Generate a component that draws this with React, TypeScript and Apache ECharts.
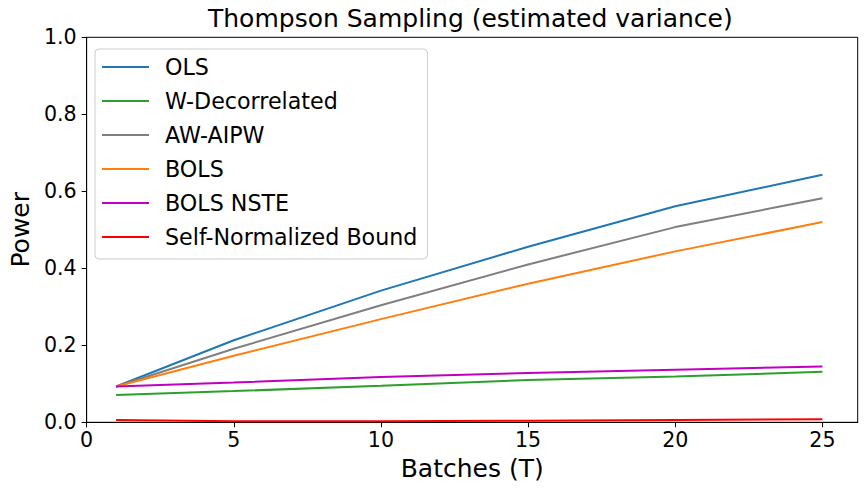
import React, { useEffect, useRef } from "react";
import * as echarts from "echarts";

const batches = [1, 5, 10, 15, 20, 25];
const olsValues = [0.093, 0.213, 0.342, 0.456, 0.561, 0.643];
const wDecorrelatedValues = [0.071, 0.081, 0.095, 0.11, 0.119, 0.131];
const awAipwValues = [0.093, 0.191, 0.304, 0.41, 0.507, 0.582];
const bolsValues = [0.093, 0.173, 0.268, 0.36, 0.444, 0.52];
const bolsNsteValues = [0.093, 0.1035, 0.1175, 0.128, 0.1365, 0.145];
const selfNormalizedValues = [0.006, 0.003, 0.003, 0.004, 0.006, 0.008];
const xTickValues = [0, 5, 10, 15, 20, 25];

const seriesDefs = [
  { name: "OLS", values: olsValues, color: "#1f77b4" },
  { name: "W-Decorrelated", values: wDecorrelatedValues, color: "#2ca02c" },
  { name: "AW-AIPW", values: awAipwValues, color: "#7f7f7f" },
  { name: "BOLS", values: bolsValues, color: "#ff7f0e" },
  { name: "BOLS NSTE", values: bolsNsteValues, color: "#bf00bf" },
  { name: "Self-Normalized Bound", values: selfNormalizedValues, color: "#ff0000" },
];

const FONT = "DejaVu Sans";

export default function App() {
  const ref = useRef<HTMLDivElement>(null);
  useEffect(() => {
    if (!ref.current) return;
    const chart = echarts.init(ref.current, null, { renderer: "svg" });
    chart.setOption({
      animation: false,
      backgroundColor: "#ffffff",
      textStyle: { fontFamily: FONT },
      title: {
        text: "Thompson Sampling (estimated variance)",
        left: 208,
        top: 6,
        padding: 0,
        textStyle: { fontFamily: FONT, fontSize: 25, fontWeight: "normal", color: "#000" },
      },
      legend: {
        left: 95,
        top: 49,
        orient: "vertical",
        padding: [6, 10, 10, 6],
        itemGap: 10,
        itemWidth: 47,
        itemHeight: 14,
        backgroundColor: "rgba(255,255,255,0.8)",
        borderColor: "#cccccc",
        borderWidth: 1,
        borderRadius: 4,
        itemStyle: { opacity: 0 },
        lineStyle: { width: 2 },
        textStyle: {
          fontFamily: FONT,
          fontSize: 22.2,
          lineHeight: 24,
          color: "#000",
          padding: [0, 0, 0, 11],
        },
        data: seriesDefs.map((s) => s.name),
      },
      grid: {
        left: 82.8,
        right: 9.3,
        top: 37.3,
        bottom: 68.7,
        show: true,
        borderColor: "#000",
        borderWidth: 1,
        backgroundColor: "transparent",
      },
      xAxis: {
        type: "value",
        min: 0,
        max: 26.2,
        interval: 5,
        name: "Batches (T)",
        nameLocation: "middle",
        nameGap: 34,
        nameTextStyle: { fontFamily: FONT, fontSize: 25, color: "#000" },
        axisLine: { show: true, lineStyle: { color: "#000", width: 1 } },
        axisTick: {
          show: true,
          inside: false,
          length: 5,
          lineStyle: { color: "#000", width: 1 },
          customValues: xTickValues,
        },
        axisLabel: {
          fontFamily: FONT,
          fontSize: 20.6,
          color: "#000",
          margin: 7,
          customValues: xTickValues,
        },
        splitLine: { show: false },
      },
      yAxis: {
        type: "value",
        min: 0,
        max: 1,
        interval: 0.2,
        name: "Power",
        nameLocation: "middle",
        nameGap: 51,
        nameTextStyle: { fontFamily: FONT, fontSize: 25, color: "#000" },
        axisLine: { show: true, lineStyle: { color: "#000", width: 1 } },
        axisTick: { show: true, inside: false, length: 5, lineStyle: { color: "#000", width: 1 } },
        axisLabel: {
          fontFamily: FONT,
          fontSize: 20.6,
          color: "#000",
          margin: 10,
          formatter: (v: number) => v.toFixed(1),
        },
        splitLine: { show: false },
      },
      series: seriesDefs.map((s) => ({
        name: s.name,
        type: "line",
        data: batches.map((b, i) => [b, s.values[i]]),
        symbol: "none",
        showSymbol: false,
        lineStyle: { color: s.color, width: 2 },
        itemStyle: { color: s.color },
        color: s.color,
      })),
    });
    return () => chart.dispose();
  }, []);
  return (
    <div
      ref={ref}
      style={{ position: "fixed", left: 0, top: 0, width: 867, height: 491 }}
    />
  );
}
